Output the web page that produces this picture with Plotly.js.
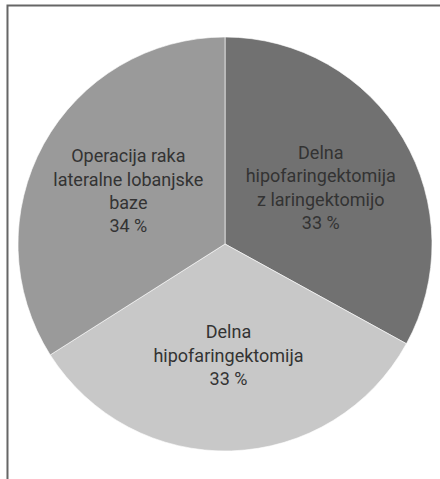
<!DOCTYPE html>
<html>
<head>
<meta charset="utf-8">
<script src="https://cdn.plot.ly/plotly-3.0.1.min.js"></script>
<style>
html, body { margin: 0; padding: 0; background: #ffffff; }
#chart { width: 440px; height: 479px; }
</style>
</head>
<body>
<div id="chart"></div>
<script>
const labels = [
  "Delna hipofaringektomija z laringektomijo",
  "Delna hipofaringektomija",
  "Operacija raka lateralne lobanjske baze"
];
const displayLabels = [
  "Delna<br>hipofaringektomija<br>z laringektomijo",
  "Delna<br>hipofaringektomija",
  "Operacija raka<br>lateralne lobanjske<br>baze"
];
const values = [33, 33, 34];
const sliceColors = ["#717171", "#c8c8c8", "#9a9a9a"];

const trace = {
  type: "pie",
  labels: labels,
  values: values,
  text: displayLabels,
  sort: false,
  direction: "clockwise",
  rotation: 0,
  texttemplate: "%{text}<br>%{value} %",
  textposition: "inside",
  insidetextorientation: "horizontal",
  insidetextfont: { family: "Roboto, 'Open Sans', sans-serif", size: 18, color: "#333333" },
  marker: { colors: sliceColors, line: { color: "rgba(255,255,255,0.6)", width: 1 } },
  hoverinfo: "none",
  showlegend: false
};

const layout = {
  width: 440,
  height: 479,
  margin: { l: 18, r: 8, t: 37, b: 28 },
  paper_bgcolor: "#ffffff",
  showlegend: false,
  shapes: [
    {
      type: "path",
      xref: "paper", yref: "paper",
      path: "M -0.0254 -0.1 L -0.0254 1.0761 L 1.2 1.0761",
      line: { color: "#666666", width: 2 }
    }
  ]
};

Plotly.newPlot("chart", [trace], layout, { displayModeBar: false, staticPlot: true });
</script>
</body>
</html>
